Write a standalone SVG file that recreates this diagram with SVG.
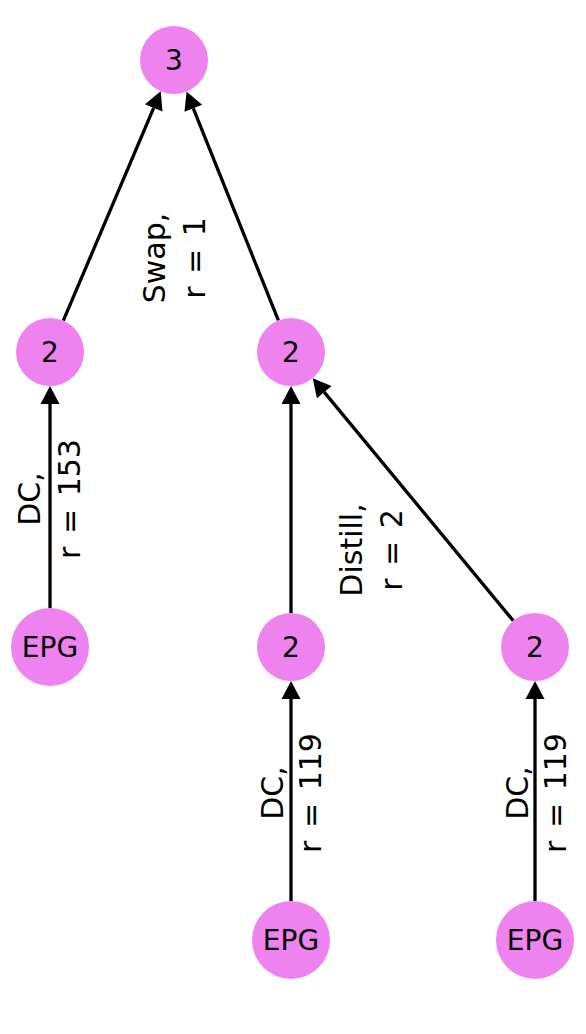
<svg xmlns="http://www.w3.org/2000/svg" width="586" height="1034" viewBox="0 0 586 1034">
<style>
.node{fill:#EE82EE;stroke:none}
.nl{font-family:"DejaVu Sans",sans-serif;font-size:28px;fill:#000;text-anchor:middle;dominant-baseline:central}
.el{font-family:"DejaVu Sans",sans-serif;font-size:30px;fill:#000;text-anchor:middle;word-spacing:3px}
.edge{stroke:#000;stroke-width:3.3;fill:none;marker-end:url(#ah)}
</style>
<defs>
<marker id="ah" markerUnits="userSpaceOnUse" markerWidth="20" markerHeight="22" refX="0" refY="10" orient="auto" viewBox="0 0 20 20" overflow="visible">
<path d="M0,0.5 L18,10 L0,19.5 Z" fill="#000"/>
</marker>
</defs>
<rect width="586" height="1034" fill="#fff"/>
<g id="connectors">
<line class="edge" x1="63.3" y1="320.7" x2="153.7" y2="107.9"/>
<line class="edge" x1="278.4" y1="320.4" x2="193.3" y2="108.3"/>
<line class="edge" x1="50" y1="608" x2="50" y2="404"/>
<line class="edge" x1="291" y1="613" x2="291" y2="404"/>
<line class="edge" x1="513.3" y1="620.8" x2="324.2" y2="392.1"/>
<line class="edge" x1="291" y1="901" x2="291" y2="699"/>
<line class="edge" x1="535" y1="901" x2="535" y2="699"/>
</g>
<g id="edge-labels">
<text class="el" transform="translate(165,258) rotate(-90)">Swap,</text>
<text class="el" transform="translate(205,258) rotate(-90)">r = 1</text>
<text class="el" transform="translate(40,499) rotate(-90)">DC,</text>
<text class="el" transform="translate(80,499) rotate(-90)">r = 153</text>
<text class="el" transform="translate(362,550) rotate(-90)">Distill,</text>
<text class="el" transform="translate(402,550) rotate(-90)">r = 2</text>
<text class="el" transform="translate(283,793) rotate(-90)">DC,</text>
<text class="el" transform="translate(321,793) rotate(-90)">r = 119</text>
<text class="el" transform="translate(528,793) rotate(-90)">DC,</text>
<text class="el" transform="translate(566,793) rotate(-90)">r = 119</text>
</g>
<g id="n3"><circle class="node" cx="174" cy="60" r="34"/><text class="nl" x="174" y="60">3</text></g>
<g id="n2a"><circle class="node" cx="50" cy="352" r="34"/><text class="nl" x="50" y="352">2</text></g>
<g id="n2b"><circle class="node" cx="291" cy="352" r="34"/><text class="nl" x="291" y="352">2</text></g>
<g id="epg1"><circle class="node" cx="50" cy="647" r="39"/><text class="nl" x="50" y="647">EPG</text></g>
<g id="n2c"><circle class="node" cx="291" cy="647" r="34"/><text class="nl" x="291" y="647">2</text></g>
<g id="n2d"><circle class="node" cx="535" cy="647" r="34"/><text class="nl" x="535" y="647">2</text></g>
<g id="epg2"><circle class="node" cx="291" cy="940" r="39"/><text class="nl" x="291" y="940">EPG</text></g>
<g id="epg3"><circle class="node" cx="535" cy="940" r="39"/><text class="nl" x="535" y="940">EPG</text></g>
</svg>
